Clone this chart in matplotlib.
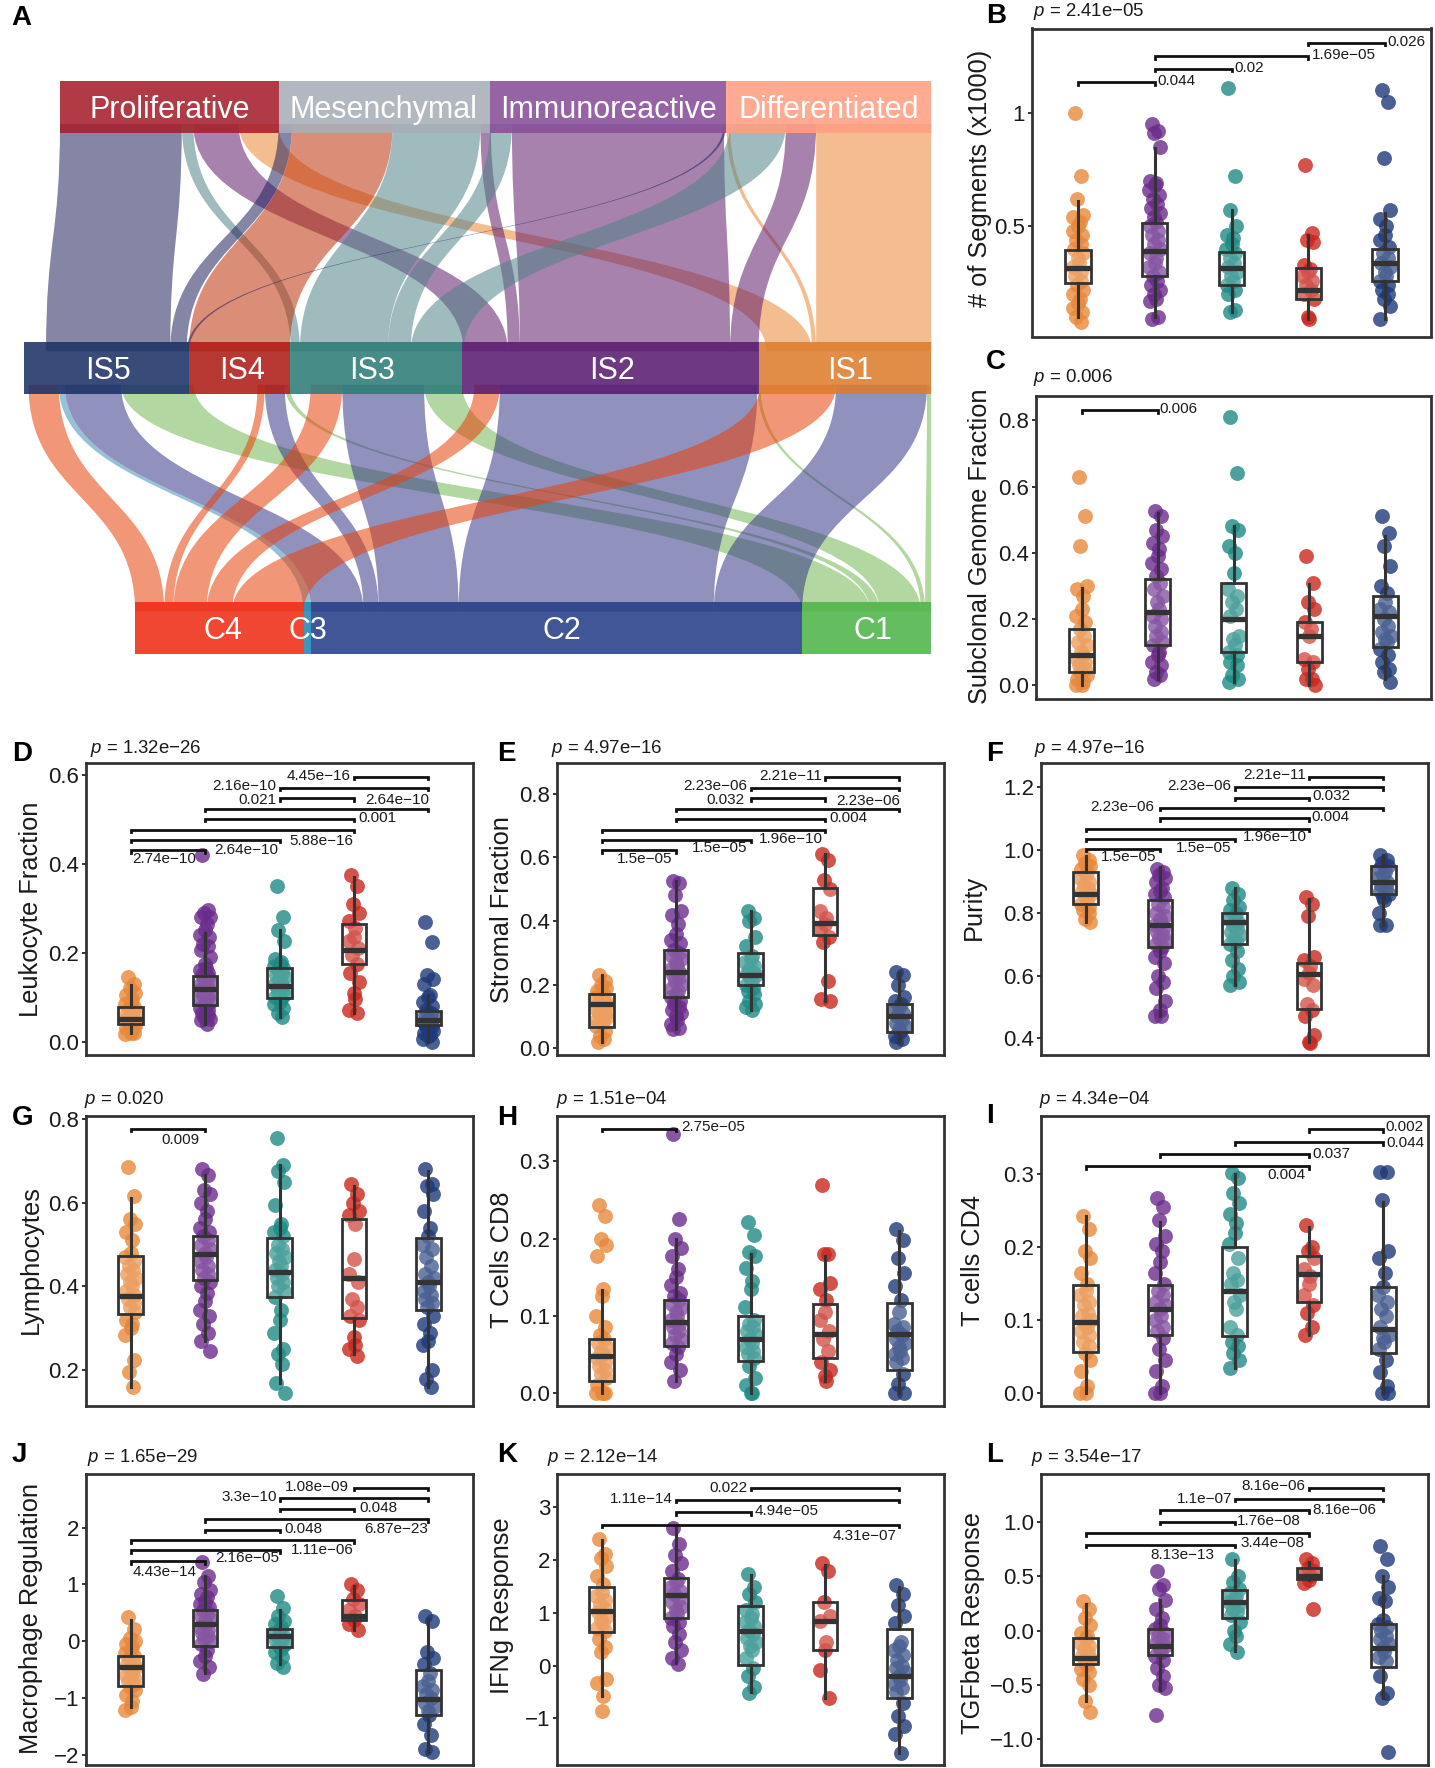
import matplotlib
matplotlib.use('Agg')
import matplotlib.pyplot as plt
from matplotlib.colors import to_rgb
from matplotlib.patches import PathPatch, Rectangle
from matplotlib.path import Path

plt.rcParams['font.family'] = ['Liberation Sans', 'DejaVu Sans']
plt.rcParams['mathtext.fontset'] = 'custom'
plt.rcParams['mathtext.it'] = 'Liberation Sans:italic'
plt.rcParams['mathtext.rm'] = 'Liberation Sans'

WIDTH = 1435
HEIGHT = 1768

# --- alluvial data (sizes in sample-like units)
subtype_names = ['Proliferative', 'Mesenchymal', 'Immunoreactive', 'Differentiated']
subtype_sizes = [361, 349, 390, 338]
subtype_colors = ['#B03A44', '#B2B8C0', '#9664A5', '#FFAA91']

immune_names = ['IS5', 'IS4', 'IS3', 'IS2', 'IS1']
immune_sizes = [272, 166, 285, 489, 285]
immune_colors = ['#374B78', '#B93732', '#468C87', '#6E3782', '#E18C46']
immune_ribbon_colors = ['#21215B', '#BD3109', '#508389', '#601B6B', '#EB8835']

tcga_names = ['C4', 'C3', 'C2', 'C1']
tcga_sizes = [278, 13, 810, 213]
tcga_colors = ['#F04632', '#3C96BE', '#415596', '#64BE5F']
tcga_ribbon_colors = ['#E94009', '#4091B6', '#373788', '#73B652']

# source, target, width at source, width at target
upper_source = [0, 0, 0, 0, 1, 1, 1, 1, 2, 2, 2, 3, 3, 3, 3]
upper_target = [0, 2, 3, 4, 0, 1, 2, 3, 2, 3, 0, 4, 2, 3, 4]
upper_source_width = [201, 19, 75, 65, 22, 166, 145, 17, 36, 350, 4, 6, 92, 50, 190]
upper_target_width = [205, 15, 73, 75, 27, 166, 145, 20, 38, 347, 4, 7, 87, 47, 190]

lower_source = [0, 0, 0, 0, 1, 1, 1, 2, 2, 2, 3, 3, 4, 4, 4, 4]
lower_target = [0, 1, 2, 3, 0, 2, 3, 0, 2, 3, 0, 2, 3, 0, 2, 3]
lower_source_width = [50, 10, 93, 120, 12, 33, 8, 52, 135, 63, 42, 425, 5, 125, 150, 7]
lower_target_width = [48, 13, 86, 112, 15, 25, 16, 55, 132, 68, 42, 421, 7, 118, 146, 10]

# --- box plot data: whisker low, q1, median, q3, whisker high
segments_box = [[.10, .25, .315, .395, .61], [.10, .28, .39, .515, .845], [.12, .24, .315, .385, .57],
                [.09, .18, .22, .315, .46], [.09, .26, .34, .40, .56]]
segments_points = [
    [1.0, .72, .62, .55, .54, .52, .50, .48, .46, .44, .42, .40, .38, .36, .34, .32, .30, .28, .26, .24, .22, .20,
     .18, .16, .14, .12, .10, .08],
    [.95, .92, .91, .85, .70, .69, .68, .66, .64, .62, .60, .58, .56, .54, .52, .50, .48, .46, .44, .42, .40, .38,
     .36, .34, .32, .30, .28, .26, .24, .22, .20, .18, .17, .10, .09],
    [1.11, .72, .57, .50, .46, .45, .42, .40, .38, .36, .34, .32, .30, .28, .26, .24, .22, .20, .13, .12],
    [.77, .47, .44, .43, .33, .31, .30, .28, .26, .24, .22, .20, .18, .10, .09],
    [1.10, 1.05, .80, .57, .53, .50, .46, .44, .41, .38, .36, .34, .32, .30, .28, .26, .24, .22, .20, .18, .15, .09]]
segments_pairs = [(4, 5), (2, 4), (2, 3), (1, 2)]
segments_labels = ['0.026', '1.69e\u221205', '0.02', '0.044']

subclonal_box = [[0, .04, .09, .17, .295], [.02, .12, .22, .32, .52], [.01, .10, .20, .31, .48],
                 [0, .07, .15, .19, .305], [.02, .115, .21, .27, .45]]
subclonal_points = [
    [.63, .51, .42, .30, .29, .27, .23, .21, .19, .17, .15, .13, .12, .10, .09, .08, .07, .06, .05, .04, .03, .02,
     .01, 0, 0],
    [.525, .51, .47, .45, .43, .41, .39, .37, .35, .33, .31, .29, .27, .25, .23, .21, .20, .18, .16, .15, .13, .12,
     .10, .09, .07, .06, .04, .03, .02],
    [.81, .64, .48, .47, .42, .40, .34, .29, .27, .25, .23, .21, .15, .14, .12, .10, .09, .07, .06, .03, .02, .01],
    [.39, .31, .25, .23, .19, .17, .15, .08, .07, .05, .02, .02, 0],
    [.51, .46, .42, .36, .30, .28, .25, .23, .22, .20, .18, .16, .15, .14, .13, .11, .09, .07, .05, .04, .01]]
subclonal_pairs = [(1, 2)]
subclonal_labels = ['0.006']

leukocyte_box = [[.02, .04, .05, .078, .127], [.04, .082, .118, .148, .245], [.055, .097, .125, .165, .25],
                 [.065, .175, .205, .265, .37], [0, .037, .048, .068, .105]]
leukocyte_points = [
    [.145, .13, .12, .11, .105, .095, .09, .085, .078, .075, .07, .065, .062, .06, .055, .05, .048, .045, .04, .038,
     .035, .03, .025, .02, .018, .02],
    [.42, .295, .29, .28, .28, .265, .25, .24, .235, .22, .215, .205, .19, .175, .165, .16, .155, .15, .145, .14,
     .135, .13, .125, .12, .115, .11, .105, .10, .095, .09, .085, .08, .075, .07, .065, .06, .055, .05, .048, .04],
    [.35, .28, .25, .225, .185, .18, .175, .17, .165, .16, .155, .15, .145, .14, .135, .13, .125, .12, .115, .11,
     .105, .10, .095, .09, .085, .075, .065, .055],
    [.375, .35, .31, .29, .27, .255, .235, .225, .21, .195, .175, .155, .135, .11, .095, .07, .065],
    [.268, .223, .15, .14, .13, .105, .10, .09, .08, .07, .065, .06, .055, .05, .048, .045, .042, .04, .035, .03,
     .025, .02, .015, .012, .005, 0]]
leukocyte_pairs = [(4, 5), (3, 5), (3, 4), (2, 5), (2, 4), (1, 4), (1, 3), (1, 2)]
leukocyte_labels = ['4.45e\u221216', '2.16e\u221210', '0.021', '2.64e\u221210', '0.001', '5.88e\u221216',
                    '2.64e\u221210', '2.74e\u221210']

stromal_box = [[.02, .068, .14, .17, .23], [.06, .16, .24, .31, .525], [.12, .20, .23, .30, .43],
               [.15, .355, .395, .505, .61], [.02, .05, .10, .14, .235]]
stromal_points = [
    [.23, .21, .20, .19, .18, .175, .17, .16, .155, .15, .145, .14, .135, .13, .125, .12, .115, .11, .105, .10, .095,
     .09, .085, .08, .07, .055, .04, .03, .02],
    [.525, .52, .48, .43, .42, .39, .36, .34, .33, .31, .30, .29, .28, .27, .26, .25, .24, .23, .22, .21, .20, .19,
     .18, .17, .16, .15, .14, .13, .12, .11, .10, .09, .075, .065, .06],
    [.43, .41, .40, .35, .32, .29, .28, .27, .26, .25, .24, .235, .23, .22, .21, .20, .19, .18, .17, .15, .14, .13,
     .12],
    [.61, .59, .53, .50, .43, .41, .39, .37, .35, .335, .21, .155, .15],
    [.24, .23, .20, .16, .15, .14, .13, .12, .11, .10, .09, .08, .07, .06, .05, .04, .03, .02]]
stromal_pairs = [(4, 5), (3, 5), (3, 4), (2, 5), (2, 4), (1, 4), (1, 3), (1, 2)]
stromal_labels = ['2.21e\u221211', '2.23e\u221206', '0.032', '2.23e\u221206', '0.004', '1.96e\u221210',
                  '1.5e\u221205', '1.5e\u221205']

purity_box = [[.77, .83, .86, .93, .98], [.47, .69, .76, .84, .945], [.57, .70, .77, .80, .88],
              [.39, .495, .605, .64, .845], [.76, .86, .90, .95, .985]]
purity_points = [
    [.985, .97, .96, .95, .94, .93, .92, .91, .90, .89, .88, .87, .86, .85, .84, .83, .82, .81, .80, .78, .77],
    [.94, .93, .92, .91, .90, .88, .87, .86, .85, .83, .82, .80, .79, .78, .77, .76, .75, .74, .73, .72, .71, .70,
     .69, .68, .66, .64, .60, .58, .56, .52, .49, .47, .47],
    [.88, .86, .84, .82, .81, .80, .79, .78, .77, .76, .75, .74, .73, .72, .71, .70, .68, .65, .62, .60, .58, .57],
    [.85, .83, .79, .66, .65, .63, .61, .59, .57, .51, .49, .47, .41, .39, .385],
    [.985, .97, .96, .95, .94, .93, .92, .91, .90, .89, .88, .87, .86, .85, .84, .80, .76, .76]]
purity_pairs = [(4, 5), (3, 5), (3, 4), (2, 5), (2, 4), (1, 4), (1, 3), (1, 2)]
purity_labels = ['2.21e\u221211', '2.23e\u221206', '0.032', '2.23e\u221206', '0.004', '1.96e\u221210',
                 '1.5e\u221205', '1.5e\u221205']

lymphocyte_box = [[.16, .335, .378, .472, .61], [.27, .415, .477, .52, .665], [.17, .375, .435, .515, .69],
                  [.24, .325, .42, .56, .64], [.16, .345, .41, .515, .675]]
lymphocyte_points = [
    [.685, .615, .56, .55, .53, .51, .48, .47, .46, .45, .44, .43, .42, .41, .40, .39, .38, .37, .36, .35, .34, .32,
     .31, .30, .285, .225, .195, .16],
    [.68, .665, .63, .62, .60, .58, .56, .54, .53, .52, .51, .50, .49, .48, .47, .46, .45, .44, .43, .42, .41, .40,
     .385, .365, .345, .33, .31, .29, .27, .245],
    [.755, .69, .675, .65, .595, .55, .54, .53, .52, .50, .49, .48, .47, .46, .45, .44, .43, .42, .41, .40, .39,
     .375, .345, .32, .29, .25, .24, .215, .17, .145],
    [.645, .62, .60, .58, .57, .55, .465, .43, .41, .37, .35, .33, .32, .28, .26, .25, .235],
    [.68, .645, .64, .62, .58, .54, .52, .50, .49, .47, .45, .43, .42, .41, .40, .39, .38, .37, .36, .35, .33, .31,
     .29, .27, .26, .20, .18, .16]]
lymphocyte_pairs = [(1, 2)]
lymphocyte_labels = ['0.009']

cd8_box = [[0, .016, .048, .07, .133], [.015, .061, .092, .121, .20], [0, .042, .07, .10, .18],
           [.015, .045, .076, .115, .178], [0, .03, .076, .117, .21]]
cd8_points = [
    [.243, .229, .20, .192, .178, .135, .125, .10, .085, .075, .07, .065, .06, .055, .05, .045, .04, .035, .03, .025,
     .02, .01, 0, 0, 0, 0],
    [.335, .225, .20, .188, .178, .16, .15, .14, .13, .125, .12, .115, .11, .105, .10, .095, .09, .085, .08, .075,
     .07, .065, .06, .05, .04, .03, .015],
    [.221, .205, .182, .178, .162, .145, .135, .112, .095, .09, .085, .08, .075, .07, .065, .06, .055, .05, .045,
     .035, .02, .01, 0, 0],
    [.27, .18, .18, .142, .135, .12, .105, .095, .08, .07, .055, .04, .03, .022, .015],
    [.212, .198, .175, .155, .138, .12, .105, .09, .085, .08, .075, .07, .065, .06, .055, .05, .045, .04, .025, .012,
     0, 0]]
cd8_pairs = [(1, 2)]
cd8_labels = ['2.75e\u221205']

cd4_box = [[0, .056, .097, .148, .243], [0, .08, .115, .148, .235], [.034, .078, .14, .20, .30],
           [.08, .125, .163, .188, .228], [0, .055, .088, .146, .262]]
cd4_points = [
    [.243, .225, .195, .185, .165, .15, .14, .135, .125, .12, .11, .105, .10, .095, .09, .085, .08, .07, .065, .055,
     .045, .03, .01, 0, 0],
    [.268, .255, .237, .215, .205, .195, .18, .165, .15, .14, .135, .125, .12, .115, .105, .10, .09, .085, .075, .06,
     .045, .03, .01, 0, 0],
    [.302, .295, .275, .26, .245, .233, .22, .205, .185, .165, .155, .15, .135, .125, .115, .09, .08, .07, .065, .055,
     .045, .034],
    [.23, .20, .195, .185, .17, .16, .15, .135, .12, .11, .09, .08],
    [.303, .303, .265, .195, .185, .165, .145, .135, .125, .115, .105, .09, .08, .075, .07, .06, .045, .028, .01, 0,
     0]]
cd4_pairs = [(4, 5), (3, 5), (2, 4), (1, 4)]
cd4_labels = ['0.002', '0.044', '0.037', '0.004']

macrophage_box = [[-1.15, -.78, -.45, -.25, .38], [-.55, -.08, .30, .55, 1.15], [-.40, -.10, .10, .22, .55],
                  [.20, .37, .45, .72, .98], [-1.95, -1.30, -1.02, -.50, .40]]
macrophage_points = [
    [.42, .22, .05, 0, -.05, -.10, -.15, -.20, -.25, -.30, -.35, -.40, -.45, -.50, -.55, -.60, -.65, -.70, -.75,
     -.80, -.85, -.95, -1.05, -1.15, -1.2],
    [1.4, 1.15, 1.05, .90, .84, .78, .70, .65, .60, .55, .50, .45, .40, .35, .30, .25, .20, .15, .10, .05, 0, -.05,
     -.15, -.25, -.35, -.45, -.58],
    [.80, .58, .45, .35, .30, .25, .20, .15, .12, .08, .04, 0, -.04, -.08, -.13, -.18, -.28, -.38, -.45],
    [1.0, .90, .75, .65, .55, .45, .38, .30, .20],
    [.45, .35, -.18, -.30, -.40, -.55, -.70, -.78, -.85, -.92, -1.0, -1.08, -1.15, -1.22, -1.3, -1.45, -1.65, -1.9,
     -1.95]]
macrophage_pairs = [(4, 5), (3, 5), (3, 4), (2, 5), (2, 3), (1, 4), (1, 3), (1, 2)]
macrophage_labels = ['1.08e\u221209', '3.3e\u221210', '0.048', '6.87e\u221223', '0.048', '1.11e\u221206',
                     '2.16e\u221205', '4.43e\u221214']

ifng_box = [[-.58, .63, 1.03, 1.50, 2.38], [.05, .90, 1.33, 1.67, 2.60], [-.50, .02, .65, 1.13, 1.72],
            [-.62, .30, .85, 1.20, 1.90], [-1.65, -.62, -.20, .70, 1.50]]
ifng_points = [
    [2.4, 2.12, 2.05, 1.88, 1.7, 1.55, 1.4, 1.32, 1.25, 1.17, 1.1, 1.02, .95, .87, .8, .72, .65, .5, .35, .25, -.25,
     -.32, -.58, -.85],
    [2.6, 2.3, 2.1, 1.95, 1.8, 1.65, 1.58, 1.5, 1.42, 1.35, 1.27, 1.2, 1.12, 1.05, .97, .9, .82, .75, .6, .45, .3,
     .15, .03],
    [1.73, 1.5, 1.35, 1.2, 1.05, .97, .9, .82, .75, .67, .6, .52, .45, .37, .3, .15, -.05, -.2, -.4, -.52],
    [1.95, 1.8, 1.2, .95, .85, .45, .3, -.08, -.62],
    [1.52, 1.35, 1.15, .95, .8, .45, .37, .3, .2, .1, 0, -.05, -.12, -.2, -.27, -.35, -.42, -.5, -.7, -.95, -1.15,
     -1.3, -1.65]]
ifng_pairs = [(3, 5), (2, 5), (2, 3), (1, 5)]
ifng_labels = ['0.022', '1.11e\u221214', '4.94e\u221205', '4.31e\u221207']

tgfb_box = [[-.65, -.31, -.25, -.07, .25], [-.55, -.22, -.14, .02, .28], [-.19, .12, .26, .37, .65],
            [.47, .48, .50, .58, .63], [-.62, -.33, -.16, .06, .50]]
tgfb_points = [
    [.27, .20, .12, .05, -.02, -.05, -.08, -.11, -.14, -.17, -.20, -.23, -.26, -.29, -.32, -.35, -.38, -.44, -.50,
     -.65, -.75],
    [.55, .42, .38, .28, .20, .12, .05, .02, -.02, -.05, -.08, -.11, -.14, -.17, -.20, -.23, -.27, -.34, -.42, -.50,
     -.53, -.78],
    [.66, .50, .45, .38, .35, .32, .29, .26, .23, .20, .17, .14, .08, 0, -.05, -.12, -.20],
    [.66, .62, .58, .55, .52, .50, .47, .44, .20],
    [.78, .66, .50, .40, .30, .27, .10, .06, .03, 0, -.05, -.08, -.12, -.16, -.20, -.24, -.28, -.42, -.57, -.62,
     -1.12]]
tgfb_pairs = [(4, 5), (3, 5), (2, 4), (2, 3), (1, 4), (1, 3)]
tgfb_labels = ['8.16e\u221206', '1.1e\u221207', '8.16e\u221206', '1.76e\u221208', '3.44e\u221208', '8.13e\u221213']

group_colors = ['#E8883A', '#6A2C8C', '#1F8A84', '#C8281E', '#1F3A78']

# small fixed horizontal offsets so the dots do not sit on one line
JITTER = [-.04, .045, -.015, .065, -.06, .02, 0, -.07, .05, -.025, .035, -.05, .07, -.005, .015, -.065, .04]

TEXT_DARK = '#1A1A1A'
LINE_DARK = '#333333'
NODE_ALPHA = 0.88


def px_to_fig(x, y):
    return x / WIDTH, 1 - y / HEIGHT


def node_face(color):
    # darker base colour so that, at NODE_ALPHA over white, it shows
    return tuple(max(0, (c - (1 - NODE_ALPHA)) / NODE_ALPHA) for c in to_rgb(color))


def add_ribbon(ax, x_left0, x_right0, y0, x_left1, x_right1, y1, color):
    ym = (y0 + y1) / 2
    verts = [(x_left0, y0), (x_left0, ym), (x_left1, ym), (x_left1, y1),
             (x_right1, y1), (x_right1, ym), (x_right0, ym), (x_right0, y0), (x_left0, y0)]
    codes = [Path.MOVETO, Path.CURVE4, Path.CURVE4, Path.CURVE4,
             Path.LINETO, Path.CURVE4, Path.CURVE4, Path.CURVE4, Path.CLOSEPOLY]
    ax.add_patch(PathPatch(Path(verts, codes), facecolor=color, edgecolor='none', alpha=0.55, zorder=2))


def draw_nodes(ax, names, sizes, colors, x_start, y_top, y_bottom, label_shift):
    starts = []
    x = x_start
    for name, size, color, shift in zip(names, sizes, colors, label_shift):
        starts.append(x)
        ax.add_patch(Rectangle((x, y_top), size, y_bottom - y_top, facecolor=node_face(color), alpha=NODE_ALPHA,
                               edgecolor='none', zorder=3))
        ax.text(x + size / 2 + shift, (y_top + y_bottom) / 2 + 6, name, color='white', fontsize=22,
                ha='center', va='center', zorder=4)
        x += size
    return starts


def draw_flows(ax, source, target, source_width, target_width, source_starts, target_starts,
               y0, y1, ribbon_colors):
    src_pos = list(source_starts)
    dst_pos = list(target_starts)
    for s, t, ws, wt in zip(source, target, source_width, target_width):
        add_ribbon(ax, src_pos[s], src_pos[s] + ws, y0, dst_pos[t], dst_pos[t] + wt, y1, ribbon_colors[t])
        src_pos[s] += ws
        dst_pos[t] += wt


def draw_alluvial(fig):
    ax = fig.add_axes([0, 1 - 700 / HEIGHT, 950 / WIDTH, 700 / HEIGHT])
    ax.set_xlim(0, 1568)
    ax.set_ylim(1568, 0)
    ax.axis('off')

    top_starts = draw_nodes(ax, subtype_names, subtype_sizes, subtype_colors, 99, 182, 298, [0, -2, 0, 0])
    mid_starts = draw_nodes(ax, immune_names, immune_sizes, immune_colors, 40, 766, 883, [2, 4, -6, 2, 8])
    low_starts = draw_nodes(ax, tcga_names, tcga_sizes, tcga_colors, 223, 1348, 1466, [6, 0, 8, 10])

    upper_offsets = [36, 0, 2, 2, 13]
    lower_src_offsets = [7, 113, 35, 20, -2]
    draw_flows(ax, upper_source, upper_target, upper_source_width, upper_target_width, top_starts,
               [m + o for m, o in zip(mid_starts, upper_offsets)], 278, 787, immune_ribbon_colors)
    draw_flows(ax, lower_source, lower_target, lower_source_width, lower_target_width,
               [m + o for m, o in zip(mid_starts, lower_src_offsets)], low_starts, 862, 1370,
               tcga_ribbon_colors)


def draw_panel(fig, frame, zoom_frame, ylim, ticks, tick_labels, boxes, points, pairs, labels, rows, label_pos):
    left, top, right, bottom = frame
    ax = fig.add_axes([left / WIDTH, 1 - bottom / HEIGHT, (right - left) / WIDTH, (bottom - top) / HEIGHT])
    ax.set_xlim(0.4, 5.6)
    ax.set_ylim(*ylim)

    for g, values in enumerate(points):
        xs = [g + 1 + JITTER[i % len(JITTER)] for i in range(len(values))]
        ax.scatter(xs, values, s=115, color=group_colors[g], alpha=0.8, linewidths=0, zorder=2, clip_on=False)

    stats = [dict(whislo=b[0], q1=b[1], med=b[2], q3=b[3], whishi=b[4]) for b in boxes]
    ax.bxp(stats, positions=[1, 2, 3, 4, 5], widths=0.33, patch_artist=True, showfliers=False, showcaps=False,
           manage_ticks=False, zorder=3,
           boxprops=dict(facecolor=(1, 1, 1, 0.2), edgecolor=LINE_DARK, linewidth=2.0),
           whiskerprops=dict(color=LINE_DARK, linewidth=2.2),
           medianprops=dict(color=LINE_DARK, linewidth=3.8, solid_capstyle='butt'))

    # brackets and their p values, placed in the axes' own fractions
    zl, zt, zr, zb = zoom_frame
    trans = ax.get_xaxis_transform()
    for (g1, g2), label, row, pos in zip(pairs, labels, rows, label_pos):
        y = (zb - row) / (zb - zt)
        ax.plot([g1, g1, g2, g2], [y - 0.008, y, y, y - 0.008], transform=trans, color='#111111',
                linewidth=2.0, solid_joinstyle='miter', zorder=4, clip_on=False)
        ax.text((pos[0] - zl) / (zr - zl), (zb - pos[1]) / (zb - zt), label, transform=ax.transAxes,
                ha=pos[2], va='center', fontsize=11, color=TEXT_DARK, zorder=5)

    ax.set_xticks([])
    ax.set_yticks(ticks)
    ax.set_yticklabels(tick_labels, fontsize=16, color=TEXT_DARK)
    ax.tick_params(axis='y', length=3, width=1.4, color=LINE_DARK, pad=2)
    for spine in ax.spines.values():
        spine.set_linewidth(2.0)
        spine.set_color(LINE_DARK)
    return ax


bracket_rows = {
    'segments': [93, 122, 150, 179],
    'subclonal': [893],
    'leukocyte': [172, 204, 236, 267, 298, 330, 360, 392],
    'stromal': [173, 205, 236, 267, 298, 330, 360, 392],
    'purity': [172, 203, 235, 264, 296, 327, 358, 388],
    'lymphocyte': [160],
    'cd8': [160],
    'cd4': [162, 201, 237, 273],
    'macrophage': [174, 205, 237, 268, 299, 331, 361, 394],
    'ifng': [173, 210, 247, 285],
    'tgfb': [173, 207, 241, 275, 310, 344],
}
bracket_label_pos = {
    'segments': [(1313, 92, 'left'), (1085, 119, 'left'), (852, 147, 'left'), (620, 177, 'left')],
    'subclonal': [(628, 890, 'left')],
    'leukocyte': [(1052, 170, 'right'), (830, 200, 'right'), (830, 240, 'right'), (1288, 240, 'right'),
                  (1075, 295, 'left'), (1060, 363, 'right'), (835, 390, 'right'), (590, 418, 'right')],
    'stromal': [(1028, 170, 'right'), (803, 200, 'right'), (795, 240, 'right'), (1260, 245, 'right'),
                (1047, 295, 'left'), (1028, 358, 'right'), (803, 386, 'right'), (578, 418, 'right')],
    'purity': [(1055, 167, 'right'), (830, 200, 'right'), (1072, 228, 'left'), (598, 263, 'right'),
               (1070, 293, 'left'), (1056, 352, 'right'), (830, 385, 'right'), (605, 413, 'right')],
    'lymphocyte': [(600, 193, 'right')],
    'cd8': [(603, 155, 'left')],
    'cd4': [(1292, 155, 'left'), (1296, 202, 'left'), (1072, 235, 'left'), (1053, 300, 'right')],
    'macrophage': [(1048, 170, 'right'), (830, 202, 'right'), (1080, 234, 'left'), (1285, 296, 'right'),
                   (855, 296, 'left'), (1062, 360, 'right'), (838, 384, 'right'), (590, 425, 'right')],
    'ifng': [(803, 173, 'right'), (578, 208, 'right'), (825, 243, 'left'), (1250, 318, 'right')],
    'tgfb': [(1053, 168, 'right'), (833, 207, 'right'), (1072, 240, 'left'), (845, 273, 'left'),
             (1050, 340, 'right'), (778, 374, 'right')],
}

fig = plt.figure(figsize=(WIDTH / 100, HEIGHT / 100), dpi=100)
draw_alluvial(fig)

row3 = (763, 1055)
row4 = (1116, 1406)
row5 = (1474, 1765)
z3 = (130, 1005)
z4 = (122, 992)
z5 = (132, 1005)

panels = [
    ((1032, 28.5, 1431, 336.5), (245, 62, 1443, 733), (.014, 1.372), [.5, 1], ['0.5', '1'],
     segments_box, segments_points, segments_pairs, segments_labels, 'segments'),
    ((1036, 396, 1431, 699), (258, 862, 1443, 1522), (-.0416, .8735), [0, .2, .4, .6, .8],
     ['0.0', '0.2', '0.4', '0.6', '0.8'],
     subclonal_box, subclonal_points, subclonal_pairs, subclonal_labels, 'subclonal'),
    ((86, row3[0], 473, row3[1]), (258, z3[0], 1420, z3[1]), (-.03, .626), [0, .2, .4, .6],
     ['0.0', '0.2', '0.4', '0.6'],
     leukocyte_box, leukocyte_points, leukocyte_pairs, leukocyte_labels, 'leukocyte'),
    ((557, row3[0], 944, row3[1]), (232, z3[0], 1392, z3[1]), (-.021, .896), [0, .2, .4, .6, .8],
     ['0.0', '0.2', '0.4', '0.6', '0.8'],
     stromal_box, stromal_points, stromal_pairs, stromal_labels, 'stromal'),
    ((1041, row3[0], 1428, row3[1]), (258, z3[0], 1420, z3[1]), (.347, 1.278), [.4, .6, .8, 1, 1.2],
     ['0.4', '0.6', '0.8', '1.0', '1.2'],
     purity_box, purity_points, purity_pairs, purity_labels, 'purity'),
    ((86, row4[0], 473, row4[1]), (258, z4[0], 1420, z4[1]), (.115, .8065), [.2, .4, .6, .8],
     ['0.2', '0.4', '0.6', '0.8'],
     lymphocyte_box, lymphocyte_points, lymphocyte_pairs, lymphocyte_labels, 'lymphocyte'),
    ((557, row4[0], 944, row4[1]), (232, z4[0], 1392, z4[1]), (-.0168, .3587), [0, .1, .2, .3],
     ['0.0', '0.1', '0.2', '0.3'],
     cd8_box, cd8_points, cd8_pairs, cd8_labels, 'cd8'),
    ((1041, row4[0], 1428, row4[1]), (258, z4[0], 1420, z4[1]), (-.018, .38), [0, .1, .2, .3],
     ['0.0', '0.1', '0.2', '0.3'],
     cd4_box, cd4_points, cd4_pairs, cd4_labels, 'cd4'),
    ((86, row5[0], 473, row5[1]), (258, z5[0], 1420, z5[1]), (-2.176, 2.944), [-2, -1, 0, 1, 2],
     ['\u22122', '\u22121', '0', '1', '2'],
     macrophage_box, macrophage_points, macrophage_pairs, macrophage_labels, 'macrophage'),
    ((557, row5[0], 944, row5[1]), (232, z5[0], 1392, z5[1]), (-1.883, 3.633), [-1, 0, 1, 2, 3],
     ['\u22121', '0', '1', '2', '3'],
     ifng_box, ifng_points, ifng_pairs, ifng_labels, 'ifng'),
    ((1041, row5[0], 1428, row5[1]), (258, z5[0], 1420, z5[1]), (-1.236, 1.442), [-1, -.5, 0, .5, 1],
     ['\u22121.0', '\u22120.5', '0.0', '0.5', '1.0'],
     tgfb_box, tgfb_points, tgfb_pairs, tgfb_labels, 'tgfb'),
]

for frame, zoom_frame, ylim, ticks, tick_labels, boxes, points, pairs, labels, key in panels:
    draw_panel(fig, frame, zoom_frame, ylim, ticks, tick_labels, boxes, points, pairs, labels,
               bracket_rows[key], bracket_label_pos[key])

# axis titles as figure text, so they land where the original has them
axis_titles = ['# of Segments (x1000)', 'Subclonal Genome Fraction', 'Leukocyte Fraction', 'Stromal Fraction', 'Purity',
               'Lymphocytes', 'T Cells CD8', 'T cells CD4', 'Macrophage Regulation', 'IFNg Response', 'TGFbeta Response']
axis_title_xy = [(980, 178), (980, 546), (31, 909), (502, 910), (974, 907),
                 (31, 1260), (502, 1260), (973, 1261), (31, 1619), (502, 1606), (973, 1623)]
for title, (x, y) in zip(axis_titles, axis_title_xy):
    fx, fy = px_to_fig(x, y)
    fig.text(fx, fy, title, rotation=90, ha='center', va='center', fontsize=18.3, color=TEXT_DARK)

overall_p = ['2.41e\u221205', '0.006', '1.32e\u221226', '4.97e\u221216', '4.97e\u221216', '0.020', '1.51e\u221204',
             '4.34e\u221204', '1.65e\u221229', '2.12e\u221214', '3.54e\u221217']
overall_p_xy = [(1033, 12), (1033, 378), (90, 748), (551, 748), (1034, 748), (84, 1100), (556, 1100), (1039, 1100),
                (87, 1458), (547, 1458), (1031, 1458)]
for value, (x, y) in zip(overall_p, overall_p_xy):
    fx, fy = px_to_fig(x, y)
    fig.text(fx, fy, '$\\mathit{p}$ = ' + value, ha='left', va='center', fontsize=13.4, color=TEXT_DARK)

panel_letters = ['A', 'B', 'C', 'D', 'E', 'F', 'G', 'H', 'I', 'J', 'K', 'L']
panel_letter_xy = [(11, 18), (986, 16), (986, 362), (12, 754), (497, 754), (986, 754),
                   (12, 1118), (497, 1118), (986, 1116), (12, 1455), (497, 1455), (986, 1455)]
for letter, (x, y) in zip(panel_letters, panel_letter_xy):
    fx, fy = px_to_fig(x, y)
    fig.text(fx, fy, letter, ha='left', va='center', fontsize=20, fontweight='bold', color='black')

fig.savefig('out.png', dpi=100)
